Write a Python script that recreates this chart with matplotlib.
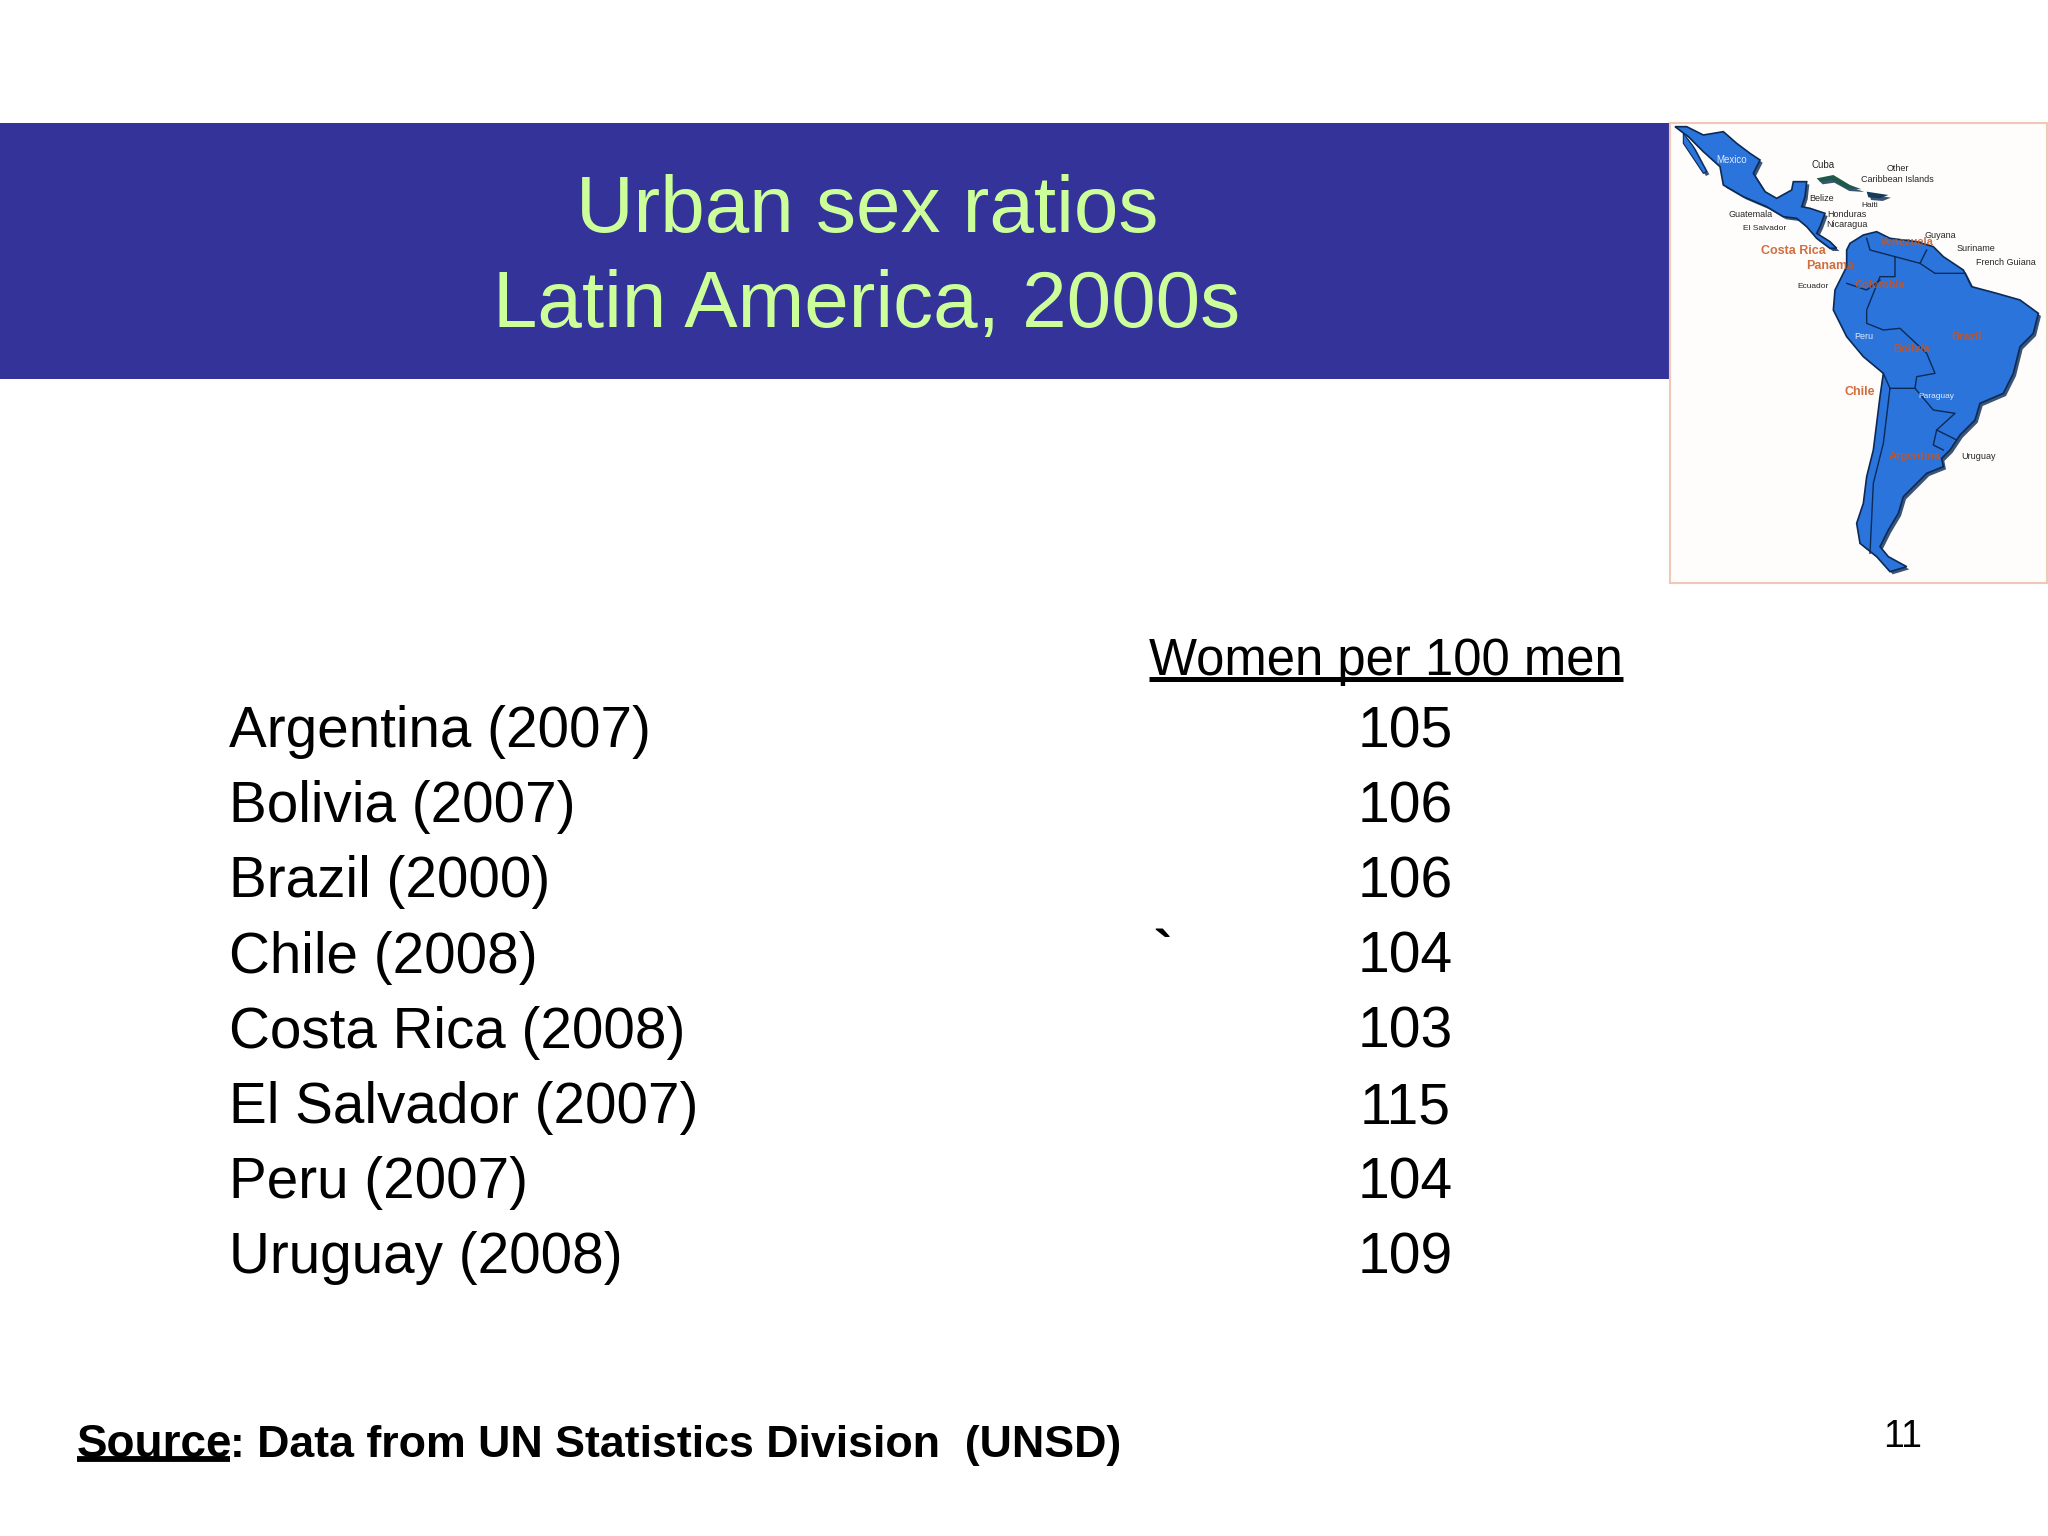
import matplotlib
matplotlib.use("Agg")
import matplotlib.pyplot as plt
from matplotlib.patches import Polygon, Rectangle

plt.rcParams['font.family'] = ['Liberation Sans', 'DejaVu Sans']

# table contents
countries = ["Argentina", "Bolivia", "Brazil", "Chile", "Costa Rica", "El Salvador", "Peru", "Uruguay"]
years = [2007, 2007, 2000, 2008, 2008, 2007, 2007, 2008]
women_per_100_men = [105, 106, 106, 104, 103, 115, 104, 109]

title_lines = ["Urban sex ratios", "Latin America, 2000s"]
column_header = "Women per 100 men"
page_number = "11"

BLUE = "#333399"
TITLE_GREEN = "#CCFF99"
MAP_BLUE = "#2B74DC"
MAP_DARK = "#0B2A55"
ORANGE = "#C8551E"

# map outlines, in pixels of a 3x crop taken at (1650, 110)
south_america = [(600, 400), (640, 375), (680, 365), (720, 385), (800, 395), (850, 410), (880, 440), (940, 480),
                 (965, 530), (1040, 550), (1110, 570), (1165, 610), (1150, 670), (1110, 710), (1090, 790),
                 (1060, 850), (990, 880), (975, 930), (930, 975), (900, 1020), (875, 1045), (880, 1070),
                 (830, 1090), (800, 1120), (760, 1160), (745, 1210), (715, 1260), (690, 1310), (715, 1340),
                 (770, 1370), (720, 1385), (680, 1340), (630, 1300), (620, 1240), (640, 1180), (650, 1100),
                 (670, 1020), (680, 940), (690, 860), (700, 790), (640, 740), (590, 680), (550, 600),
                 (555, 540), (590, 470), (590, 420)]
mexico_central = [(75, 50), (110, 50), (160, 75), (220, 65), (260, 100), (300, 130), (330, 150), (310, 190),
                  (345, 245), (380, 265), (425, 240), (430, 215), (470, 215), (465, 260), (455, 290), (480, 295),
                  (525, 310), (510, 350), (500, 370), (540, 395), (560, 415), (540, 415), (500, 385), (470, 350),
                  (440, 325), (400, 320), (350, 290), (280, 260), (220, 225), (210, 170), (160, 125), (115, 80)]
baja = [(100, 70), (130, 110), (170, 185), (160, 190), (120, 130), (100, 100)]
cuba = [(500, 205), (550, 195), (600, 225), (635, 238), (590, 235), (545, 210), (510, 215)]
hispaniola = [(650, 245), (715, 255), (690, 265), (655, 262)]
borders = [
    [(650, 385), (660, 420), (735, 440), (735, 500), (690, 500), (650, 600), (650, 640), (700, 660), (750, 655),
     (830, 730), (855, 790), (800, 800), (795, 835), (720, 835), (700, 790)],
    [(735, 440), (810, 460), (830, 420)],
    [(810, 460), (855, 490), (940, 490)],
    [(590, 520), (650, 540), (690, 510)],
    [(720, 835), (700, 1000), (670, 1120), (660, 1330)],
    [(795, 835), (850, 900), (915, 910), (860, 960), (850, 1005), (880, 1020)],
    [(860, 960), (920, 990)],
]
map_labels = [("Mexico", 245, 150, "white", False, 7), ("Cuba", 518, 165, "black", False, 7),
              ("Other", 742, 175, "black", False, 6.5), ("Caribbean Islands", 742, 207, "black", False, 6.5),
              ("Belize", 515, 265, "black", False, 6.5), ("Haiti", 660, 287, "black", False, 6),
              ("Guatemala", 302, 313, "black", False, 6.5), ("El Salvador", 345, 357, "black", False, 6),
              ("Honduras", 590, 313, "black", False, 6.5), ("Nicaragua", 590, 344, "black", False, 6.5),
              ("Guyana", 870, 378, "black", False, 6.5), ("Costa Rica", 430, 424, ORANGE, True, 9),
              ("Panama", 540, 467, ORANGE, True, 9), ("Venezuela", 770, 395, ORANGE, True, 8),
              ("Suriname", 978, 415, "black", False, 6.5), ("French Guiana", 1068, 457, "black", False, 6.5),
              ("Ecuador", 490, 530, "black", False, 6), ("Colombia", 690, 525, ORANGE, True, 8),
              ("Peru", 642, 680, "white", False, 6.5), ("Brazil", 950, 680, ORANGE, True, 8),
              ("Bolivia", 785, 716, ORANGE, True, 8), ("Chile", 630, 846, ORANGE, True, 9),
              ("Paraguay", 858, 860, "white", False, 6), ("Argentina", 795, 1037, ORANGE, True, 8),
              ("Uruguay", 985, 1040, "black", False, 6.5)]


def to_page(points):
    return [(1650 + x / 3, 110 + y / 3) for x, y in points]


fig = plt.figure(figsize=(20.48, 15.36), dpi=100, facecolor="white")
ax = fig.add_axes([0, 0, 1, 1])
ax.set_xlim(0, 2048)
ax.set_ylim(1536, 0)
ax.axis("off")

# banner
ax.add_patch(Rectangle((0, 123), 1669, 256, facecolor=BLUE, edgecolor="none"))
ax.text(867, 232, title_lines[0], color=TITLE_GREEN, fontsize=57.6, ha="center", va="baseline")
ax.text(867, 327, title_lines[1], color=TITLE_GREEN, fontsize=57.6, ha="center", va="baseline")

# map picture
ax.add_patch(Rectangle((1670, 123), 377, 460, facecolor="#FEFDFB", edgecolor="#F0C8B8", linewidth=1.5))
for shape in [south_america, mexico_central, baja, cuba, hispaniola]:
    shadow = [(x + 8, y + 8) for x, y in shape]
    ax.add_patch(Polygon(to_page(shadow), closed=True, facecolor=MAP_DARK, edgecolor="none", alpha=0.8))
ax.add_patch(Polygon(to_page(south_america), closed=True, facecolor=MAP_BLUE, edgecolor=MAP_DARK, linewidth=1.2))
ax.add_patch(Polygon(to_page(mexico_central), closed=True, facecolor=MAP_BLUE, edgecolor=MAP_DARK, linewidth=1.2))
ax.add_patch(Polygon(to_page(baja), closed=True, facecolor=MAP_BLUE, edgecolor=MAP_DARK, linewidth=0.8))
ax.add_patch(Polygon(to_page(cuba), closed=True, facecolor="#1E5A4A", edgecolor="none"))
ax.add_patch(Polygon(to_page(hispaniola), closed=True, facecolor="#123C5A", edgecolor="none"))
for line in borders:
    page_line = to_page(line)
    ax.plot([p[0] for p in page_line], [p[1] for p in page_line], color=MAP_DARK, linewidth=1.0)
for name, x, y, colour, bold, size in map_labels:
    (px, py), = to_page([(x, y)])
    ax.text(px, py, name, color=colour, fontsize=size, ha="center", va="center",
            fontweight="bold" if bold else "normal", alpha=0.85)

# table
ax.text(1149, 675, column_header, color="black", fontsize=36.6, ha="left", va="baseline")
ax.plot([1149, 1623], [679, 679], color="black", linewidth=3.6, solid_capstyle="butt")
ax.text(1153, 955, "`", color="black", fontsize=40, ha="left", va="center", fontweight="bold")
for i, (country, year, value) in enumerate(zip(countries, years, women_per_100_men)):
    baseline = 747 + 75.2 * i
    ax.text(229, baseline, "{} ({})".format(country, year), color="black", fontsize=40.8, ha="left", va="baseline")
    ax.text(1405, baseline, str(value), color="black", fontsize=41, ha="center", va="baseline")

# footer
ax.text(77, 1457, "Source", color="black", fontsize=33, fontweight="bold", ha="left", va="baseline")
ax.text(230, 1457, ": Data from UN Statistics Division  (UNSD)", color="black", fontsize=32.2, fontweight="bold",
        ha="left", va="baseline")
ax.plot([77, 230], [1459, 1459], color="black", linewidth=4.2, solid_capstyle="butt")
ax.text(1903, 1447, page_number, color="black", fontsize=27, ha="center", va="baseline")

fig.savefig("out.png", dpi=100, facecolor="white")
